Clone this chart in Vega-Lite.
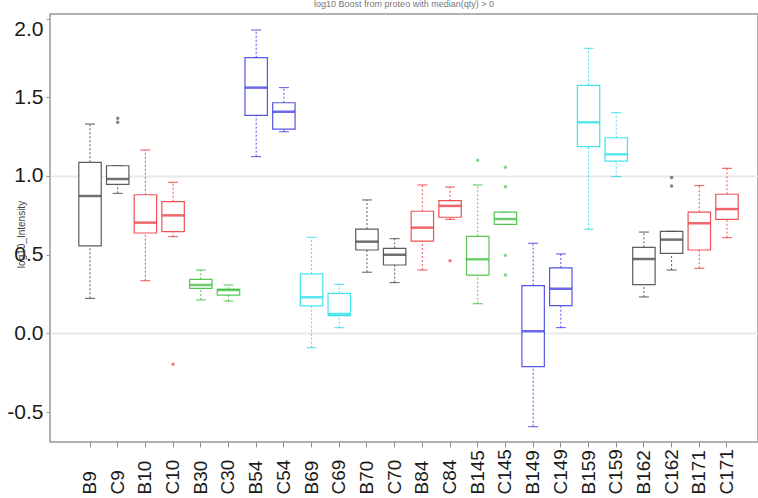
{
  "$schema": "https://vega.github.io/schema/vega-lite/v6.json",
  "width": 708,
  "height": 428,
  "autosize": {"type": "none"},
  "padding": {"left": 50, "top": 14, "right": 0, "bottom": 56},
  "background": "white",
  "title": {
    "text": "log10 Boost from proteo with median(qty) > 0",
    "fontSize": 9,
    "font": "Liberation Sans",
    "fontWeight": "normal",
    "color": "#777777",
    "offset": -4,
    "baseline": "bottom",
    "anchor": "middle"
  },
  "config": {
    "view": {"stroke": "#999999", "strokeWidth": 1.5},
    "axis": {"labelFont": "Liberation Sans", "titleFont": "Liberation Sans"}
  },
  "datasets": {
    "boxes": [
      {"cat": "B9", "grp": "k", "lo": 0.223, "q1": 0.556, "med": 0.873, "q3": 1.087, "hi": 1.33},
      {"cat": "C9", "grp": "k", "lo": 0.89, "q1": 0.947, "med": 0.981, "q3": 1.065, "hi": 1.065},
      {"cat": "B10", "grp": "r", "lo": 0.335, "q1": 0.638, "med": 0.704, "q3": 0.881, "hi": 1.165},
      {"cat": "C10", "grp": "r", "lo": 0.615, "q1": 0.647, "med": 0.75, "q3": 0.837, "hi": 0.96},
      {"cat": "B30", "grp": "g", "lo": 0.213, "q1": 0.287, "med": 0.308, "q3": 0.344, "hi": 0.403},
      {"cat": "C30", "grp": "g", "lo": 0.206, "q1": 0.244, "med": 0.276, "q3": 0.281, "hi": 0.308},
      {"cat": "B54", "grp": "b", "lo": 1.123, "q1": 1.385, "med": 1.561, "q3": 1.751, "hi": 1.927},
      {"cat": "C54", "grp": "b", "lo": 1.281, "q1": 1.297, "med": 1.408, "q3": 1.465, "hi": 1.561},
      {"cat": "B69", "grp": "c", "lo": -0.09, "q1": 0.175, "med": 0.23, "q3": 0.378, "hi": 0.611},
      {"cat": "C69", "grp": "c", "lo": 0.037, "q1": 0.113, "med": 0.124, "q3": 0.255, "hi": 0.312},
      {"cat": "B70", "grp": "k", "lo": 0.389, "q1": 0.53, "med": 0.583, "q3": 0.663, "hi": 0.848},
      {"cat": "C70", "grp": "k", "lo": 0.323, "q1": 0.435, "med": 0.5, "q3": 0.541, "hi": 0.602},
      {"cat": "B84", "grp": "r", "lo": 0.403, "q1": 0.587, "med": 0.672, "q3": 0.776, "hi": 0.943},
      {"cat": "C84", "grp": "r", "lo": 0.725, "q1": 0.738, "med": 0.81, "q3": 0.843, "hi": 0.93},
      {"cat": "B145", "grp": "g", "lo": 0.189, "q1": 0.371, "med": 0.471, "q3": 0.617, "hi": 0.943},
      {"cat": "C145", "grp": "g", "lo": 0.693, "q1": 0.693, "med": 0.727, "q3": 0.77, "hi": 0.77},
      {"cat": "B149", "grp": "b", "lo": -0.592, "q1": -0.211, "med": 0.014, "q3": 0.304, "hi": 0.573},
      {"cat": "C149", "grp": "b", "lo": 0.037, "q1": 0.177, "med": 0.284, "q3": 0.416, "hi": 0.505},
      {"cat": "B159", "grp": "c", "lo": 0.662, "q1": 1.186, "med": 1.341, "q3": 1.576, "hi": 1.811},
      {"cat": "C159", "grp": "c", "lo": 0.996, "q1": 1.095, "med": 1.138, "q3": 1.243, "hi": 1.402},
      {"cat": "B162", "grp": "k", "lo": 0.232, "q1": 0.31, "med": 0.473, "q3": 0.547, "hi": 0.644},
      {"cat": "C162", "grp": "k", "lo": 0.403, "q1": 0.509, "med": 0.596, "q3": 0.649, "hi": 0.649},
      {"cat": "B171", "grp": "r", "lo": 0.414, "q1": 0.53, "med": 0.7, "q3": 0.77, "hi": 0.939},
      {"cat": "C171", "grp": "r", "lo": 0.608, "q1": 0.725, "med": 0.79, "q3": 0.884, "hi": 1.049}
    ],
    "outliers": [
      {"cat": "C9", "grp": "k", "v": 1.366},
      {"cat": "C9", "grp": "k", "v": 1.341},
      {"cat": "C10", "grp": "r", "v": -0.196},
      {"cat": "C84", "grp": "r", "v": 0.462},
      {"cat": "B145", "grp": "g", "v": 1.1},
      {"cat": "C145", "grp": "g", "v": 1.055},
      {"cat": "C145", "grp": "g", "v": 0.932},
      {"cat": "C145", "grp": "g", "v": 0.496},
      {"cat": "C145", "grp": "g", "v": 0.371},
      {"cat": "C162", "grp": "k", "v": 0.99},
      {"cat": "C162", "grp": "k", "v": 0.937}
    ]
  },
  "data": {"name": "boxes"},
  "encoding": {
    "x": {
      "field": "cat",
      "type": "nominal",
      "title": null,
      "scale": {
        "type": "band",
        "domain": ["B9", "C9", "B10", "C10", "B30", "C30", "B54", "C54", "B69", "C69", "B70", "C70", "B84", "C84", "B145", "C145", "B149", "C149", "B159", "C159", "B162", "C162", "B171", "C171"],
        "paddingInner": 0,
        "paddingOuter": 0.782,
        "align": 0.604
      },
      "axis": {
        "labelAngle": 270,
        "labelAlign": "left",
        "labelBaseline": "middle",
        "labelFontSize": 19,
        "labelColor": "#1a1a1a",
        "labelPadding": 47,
        "tickSize": 5,
        "tickColor": "#888888",
        "domain": false,
        "grid": false
      }
    },
    "color": {"field": "grp", "type": "nominal", "legend": null,
      "scale": {"domain": ["k", "r", "g", "b", "c"], "range": ["#333333", "#e8262b", "#2db82d", "#2a2ae0", "#14dce8"]}}
  },
  "layer": [
    {
      "mark": {"type": "rule", "strokeDash": [2, 2], "strokeWidth": 1, "opacity": 0.8},
      "encoding": {
        "y": {
          "field": "q3",
          "type": "quantitative",
          "title": "log10_Intensity",
          "scale": {"domain": [-0.689, 2.0286], "nice": false, "zero": false},
          "axis": {
            "values": [-0.5, 0, 0.5, 1, 1.5, 2],
            "format": ".1f",
            "labelExpr": "replace(datum.label, '\u2212', '-')",
            "labelFontSize": 21,
            "labelColor": "#1a1a1a",
            "labelPadding": 3,
            "labelFlush": 6,
            "tickSize": 4,
            "tickColor": "#999999",
            "domain": false,
            "grid": true,
            "gridWidth": 2,
            "gridColor": {"condition": {"test": "datum.value === 0 || datum.value === 1", "value": "#e8e8e8"}, "value": "transparent"},
            "titleFontSize": 10,
            "titleFontWeight": "normal",
            "titleColor": "#444444",
            "titleAngle": 270,
            "titleX": -29,
            "titleY": 220,
            "titleAlign": "center",
            "titleBaseline": "middle"
          }
        },
        "y2": {"field": "hi"}
      }
    },
    {
      "mark": {"type": "rule", "strokeDash": [2, 2], "strokeWidth": 1, "opacity": 0.8},
      "encoding": {
        "y": {"field": "lo", "type": "quantitative", "title": "log10_Intensity"},
        "y2": {"field": "q1"}
      }
    },
    {
      "mark": {"type": "tick", "size": 10, "thickness": 1, "opacity": 0.8},
      "encoding": {
        "y": {"field": "hi", "type": "quantitative", "title": "log10_Intensity"}
      }
    },
    {
      "mark": {"type": "tick", "size": 10, "thickness": 1, "opacity": 0.8},
      "encoding": {
        "y": {"field": "lo", "type": "quantitative", "title": "log10_Intensity"}
      }
    },
    {
      "mark": {"type": "bar", "fill": "white", "strokeWidth": 1.2, "strokeOpacity": 0.8, "width": {"band": 0.81}},
      "encoding": {
        "y": {"field": "q1", "type": "quantitative", "title": "log10_Intensity"},
        "y2": {"field": "q3"},
        "color": {"value": "white"},
        "stroke": {"field": "grp", "type": "nominal", "legend": null,
          "scale": {"domain": ["k", "r", "g", "b", "c"], "range": ["#333333", "#e8262b", "#2db82d", "#2a2ae0", "#14dce8"]}}
      }
    },
    {
      "mark": {"type": "tick", "size": 22, "thickness": 2.5},
      "encoding": {
        "y": {"field": "med", "type": "quantitative", "title": "log10_Intensity"}
      }
    },
    {
      "data": {"name": "outliers"},
      "mark": {"type": "point", "filled": true, "size": 12, "opacity": 0.6},
      "encoding": {
        "y": {"field": "v", "type": "quantitative", "title": "log10_Intensity"}
      }
    }
  ]
}
